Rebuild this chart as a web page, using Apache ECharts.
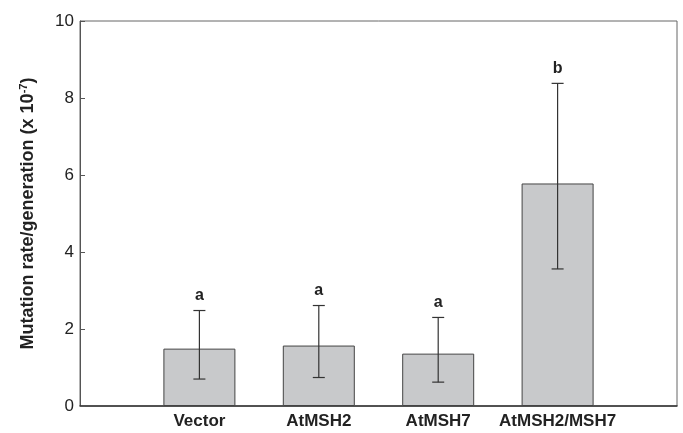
<!DOCTYPE html>
<html>
<head>
<meta charset="utf-8">
<script src="https://cdn.jsdelivr.net/npm/echarts@6/dist/echarts.min.js"></script>
<style>html,body{margin:0;padding:0;background:#fff}#c{width:683px;height:433px}</style>
</head>
<body>
<div id="c"></div>
<script>
var categories = ['Vector', 'AtMSH2', 'AtMSH7', 'AtMSH2/MSH7'];
var means = [1.49, 1.57, 1.36, 5.78];
var errLow = [0.70, 0.74, 0.62, 3.56];
var errHigh = [2.48, 2.61, 2.30, 8.38];
var letters = ['a', 'a', 'a', 'b'];
var yTicks = [0, 2, 4, 6, 8, 10];

var axisCats = [''].concat(categories).concat(['']);
var barData = [null].concat(means).concat([null]);
var errData = categories.map(function (c, i) { return [i + 1, errLow[i], errHigh[i], letters[i]]; });

var chart = echarts.init(document.getElementById('c'));
chart.setOption({
  animation: false,
  grid: { left: 80, right: 6, top: 21, bottom: 27, show: true, borderColor: '#666', borderWidth: 1, backgroundColor: 'transparent' },
  xAxis: {
    type: 'category', data: axisCats, boundaryGap: false,
    axisLine: { lineStyle: { color: '#333', width: 1.5 } },
    axisTick: { show: false },
    axisLabel: { color: '#222', fontFamily: 'Liberation Sans, Arial, sans-serif', fontWeight: 'bold', fontSize: 17, margin: 7, interval: 0 },
    splitLine: { show: false }
  },
  yAxis: {
    type: 'value', min: 0, max: 10, interval: 2,
    axisLine: { show: true, lineStyle: { color: '#555', width: 1 } },
    axisTick: { show: true, inside: true, length: 5, lineStyle: { color: '#555' } },
    axisLabel: { color: '#222', fontFamily: 'Liberation Sans, Arial, sans-serif', fontSize: 17, margin: 6,
      formatter: function (v) { return yTicks.indexOf(v) >= 0 ? String(v) : ''; } },
    splitLine: { show: false },
    name: 'Mutation rate/generation (x 10{sup|-7})',
    nameLocation: 'middle', nameGap: 42,
    nameTextStyle: { color: '#222', fontFamily: 'Liberation Sans, Arial, sans-serif', fontWeight: 'bold', fontSize: 18,
      rich: { sup: { fontSize: 11, fontWeight: 'bold', color: '#222', verticalAlign: 'top', padding: [0, 0, 9, 0], fontFamily: 'Liberation Sans, Arial, sans-serif' } } }
  },
  series: [
    {
      type: 'bar', data: barData, barWidth: 72,
      itemStyle: { color: '#c8c9cb', borderColor: '#444', borderWidth: 1 }
    },
    {
      type: 'custom', data: errData, z: 5,
      renderItem: function (params, api) {
        var x = api.value(0);
        var lo = api.coord([x, api.value(1)]);
        var hi = api.coord([x, api.value(2)]);
        var cx = lo[0];
        var hw = 6;
        var st = { stroke: '#333', lineWidth: 1.2 };
        return {
          type: 'group',
          children: [
            { type: 'line', shape: { x1: cx, y1: lo[1], x2: cx, y2: hi[1] }, style: st },
            { type: 'line', shape: { x1: cx - hw, y1: lo[1], x2: cx + hw, y2: lo[1] }, style: st },
            { type: 'line', shape: { x1: cx - hw, y1: hi[1], x2: cx + hw, y2: hi[1] }, style: st },
            { type: 'text', style: { text: letters[params.dataIndex], x: cx, y: hi[1] - 7, align: 'center', verticalAlign: 'bottom',
                fill: '#222', font: 'bold 16px "Liberation Sans", Arial, sans-serif' } }
          ]
        };
      }
    }
  ]
});
</script>
</body>
</html>
